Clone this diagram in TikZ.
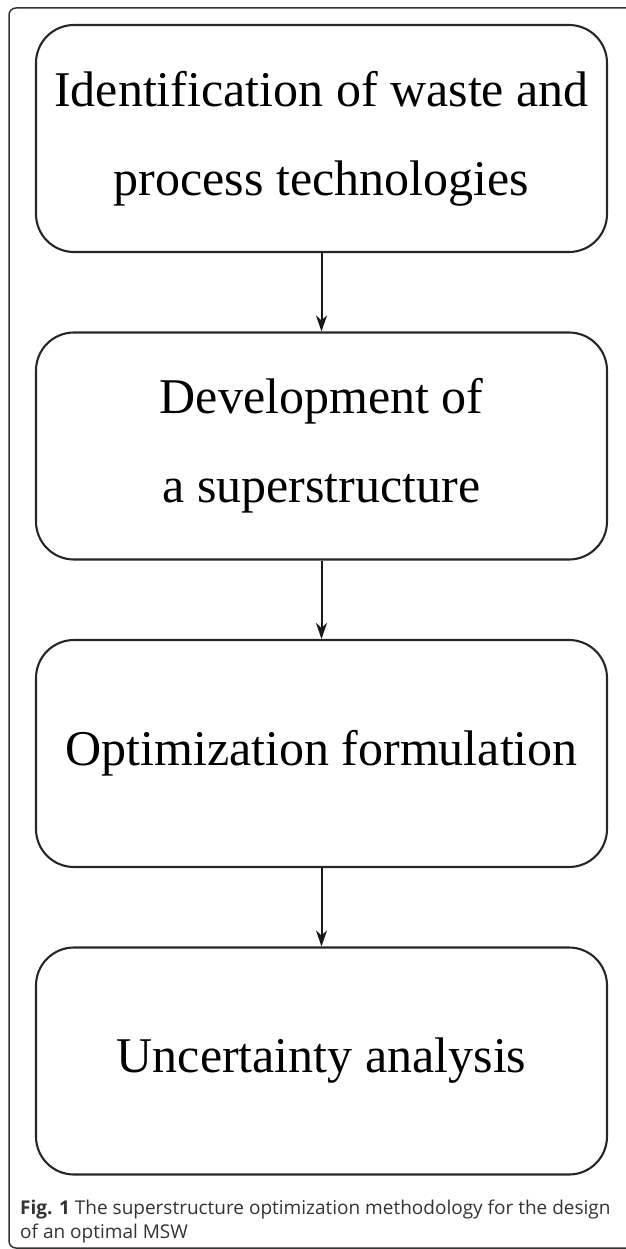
\documentclass[tikz,border=0pt]{standalone}
\usepackage{fontspec}
\setmainfont{Liberation Serif}
\newfontfamily\capfont{Open Sans}
\usetikzlibrary{positioning, arrows.meta}

\begin{document}
\begin{tikzpicture}[x=1pt, y=1pt,
        stage/.style={draw=black!85, line width=2.1pt, rounded corners=38pt,
            minimum width=571pt, minimum height=227pt, inner sep=0pt,
            align=center, font=\fontsize{50}{89}\selectfont},
        flow/.style={-{Stealth[length=16pt, width=11pt, inset=5pt]}, line width=2pt, draw=black!90}]
        \useasboundingbox (0,0) rectangle (625,-1249);
        % outer frame, cut off on the right
        \draw[line width=1.5pt, rounded corners=7pt, black!80]
            (626,-8) -- (9,-8) -- (9,-1248) -- (626,-1248);

        \node[stage] (ident) at (321.5,-138.5) {Identification of waste and\\process technologies};
        \node[stage] (super) at (321.5,-446) {Development of\\a superstructure};
        \node[stage] (optim) at (321.5,-753.5) {Optimization formulation};
        \node[stage] (uncert) at (321.5,-1061) {Uncertainty analysis};

        \draw[flow] (ident) -- (super);
        \draw[flow] (super) -- (optim);
        \draw[flow] (optim) -- (uncert);

        \node[anchor=north west, align=left, inner sep=0pt, text=black!80,
            font=\capfont\fontsize{19}{23.5}\selectfont] (caption) at (20,-1200)
            {\textbf{Fig. 1} The superstructure optimization methodology for the design\\of an optimal MSW};
    \end{tikzpicture}
\end{document}
